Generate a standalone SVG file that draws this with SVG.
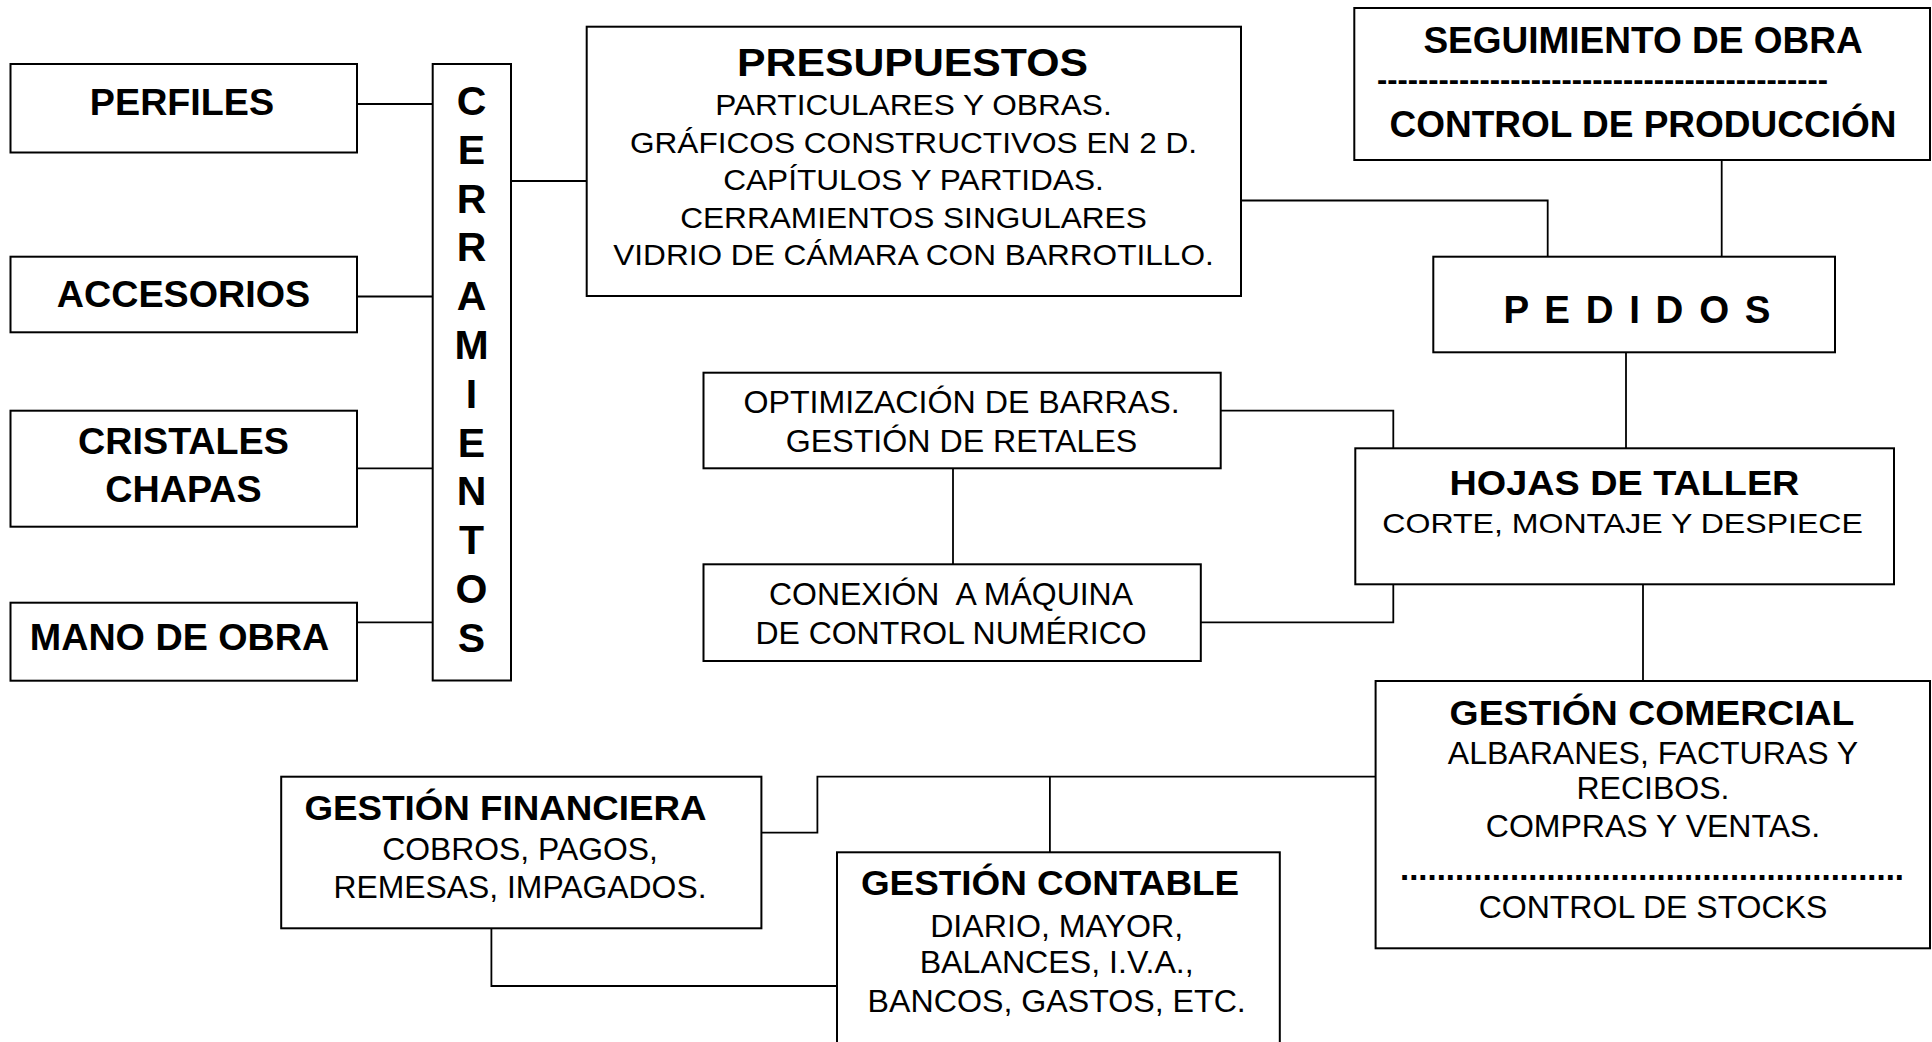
<svg xmlns="http://www.w3.org/2000/svg" width="1932" height="1042" viewBox="0 0 1932 1042">
<style>
.box{fill:#fff;stroke:#000;stroke-width:2}
.con{fill:none;stroke:#000;stroke-width:1.8}
.b{font-family:"Liberation Sans",Arial,sans-serif;font-weight:bold;text-anchor:middle;fill:#000}
.r{font-family:"Liberation Sans",Arial,sans-serif;font-weight:normal;text-anchor:middle;fill:#000}
.lc{font-size:37.7px}
.let{font-size:41px}
</style>
<rect x="0" y="0" width="1932" height="1042" fill="#fff"/>
<g id="connectors">
<path class="con" d="M357,104 H433"/>
<path class="con" d="M357,296.5 H433"/>
<path class="con" d="M357,468.3 H433"/>
<path class="con" d="M357,622.3 H433"/>
<path class="con" d="M511,181 H587"/>
<path class="con" d="M1241,200.5 H1547.7 V256.7"/>
<path class="con" d="M1721.7,160 V256.7"/>
<path class="con" d="M1626,352.3 V448.3"/>
<path class="con" d="M1220.7,410.7 H1393.3 V448.3"/>
<path class="con" d="M1200.8,622.3 H1393.3 V584.3"/>
<path class="con" d="M953,468.3 V564.3"/>
<path class="con" d="M1643,584.3 V681"/>
<path class="con" d="M1375.6,776.7 H817.4 V832.7 H761.4"/>
<path class="con" d="M1049.9,776.7 V852.3"/>
<path class="con" d="M491.4,928.3 V986 H837"/>
</g>
<g id="perfiles">
<rect class="box" x="10.5" y="64" width="346.5" height="88.5"/>
<text class="b lc" x="182" y="115">PERFILES</text>
</g>
<g id="accesorios">
<rect class="box" x="10.5" y="256.7" width="346.5" height="75.6"/>
<text class="b lc" x="183.5" y="306.7">ACCESORIOS</text>
</g>
<g id="cristales">
<rect class="box" x="10.5" y="410.7" width="346.5" height="116"/>
<text class="b lc" x="183.5" y="454">CRISTALES</text>
<text class="b lc" x="183.5" y="501.7">CHAPAS</text>
</g>
<g id="mano-de-obra">
<rect class="box" x="10.5" y="602.7" width="346.5" height="78"/>
<text class="b lc" x="179.5" y="650">MANO DE OBRA</text>
</g>
<g id="cerramientos">
<rect class="box" x="432.7" y="64" width="78.3" height="616.5"/>
<text class="b let" x="471.5" y="115">C</text>
<text class="b let" x="471.5" y="163.8">E</text>
<text class="b let" x="471.5" y="212.6">R</text>
<text class="b let" x="471.5" y="261.4">R</text>
<text class="b let" x="471.5" y="310.2">A</text>
<text class="b let" x="471.5" y="359">M</text>
<text class="b let" x="471.5" y="407.8">I</text>
<text class="b let" x="471.5" y="456.6">E</text>
<text class="b let" x="471.5" y="505.4">N</text>
<text class="b let" x="471.5" y="554.2">T</text>
<text class="b let" x="471.5" y="603">O</text>
<text class="b let" x="471.5" y="651.8">S</text>
</g>
<g id="presupuestos">
<rect class="box" x="586.7" y="26.7" width="654.3" height="269.3"/>
<text class="b" font-size="39" transform="translate(912.5 0) scale(1.097 1)" x="0" y="76">PRESUPUESTOS</text>
<g class="r" font-size="29" transform="translate(913.5 0) scale(1.09 1)">
<text x="0" y="115.5">PARTICULARES Y OBRAS.</text>
<text x="0" y="153">GRÁFICOS CONSTRUCTIVOS EN 2 D.</text>
<text x="0" y="190.5">CAPÍTULOS Y PARTIDAS.</text>
<text x="0" y="228">CERRAMIENTOS SINGULARES</text>
<text x="0" y="265.5">VIDRIO DE CÁMARA CON BARROTILLO.</text>
</g>
</g>
<g id="seguimiento">
<rect class="box" x="1354.3" y="8" width="575.7" height="152"/>
<text class="b" font-size="37" x="1643" y="53.3">SEGUIMIENTO DE OBRA</text>
<text class="b" font-size="31" style="text-anchor:start" x="1377" y="90" textLength="451" lengthAdjust="spacingAndGlyphs">--------------------------------------------</text>
<text class="b" font-size="37" x="1643" y="136.7">CONTROL DE PRODUCCIÓN</text>
</g>
<g id="pedidos">
<rect class="box" x="1433.3" y="256.7" width="401.7" height="95.6"/>
<text class="b" font-size="38.5" style="text-anchor:start" x="1503.5" y="322.7" textLength="267" lengthAdjust="spacing">P E D I D O S</text>
</g>
<g id="optimizacion">
<rect class="box" x="703.5" y="372.7" width="517.2" height="95.6"/>
<g class="r" font-size="31.5" transform="translate(961.5 0) scale(1.022 1)">
<text x="0" y="412.7">OPTIMIZACIÓN DE BARRAS.</text>
<text x="0" y="451.7">GESTIÓN DE RETALES</text>
</g>
</g>
<g id="conexion">
<rect class="box" x="703.5" y="564.3" width="497.3" height="96.7"/>
<g class="r" font-size="31.5" transform="translate(951 0) scale(1.015 1)">
<text x="0" y="605" xml:space="preserve">CONEXIÓN  A MÁQUINA</text>
<text x="0" y="644">DE CONTROL NUMÉRICO</text>
</g>
</g>
<g id="hojas-de-taller">
<rect class="box" x="1355.3" y="448.3" width="538.7" height="136"/>
<text class="b" font-size="35" transform="translate(1624.5 0) scale(1.08 1)" x="0" y="494.8">HOJAS DE TALLER</text>
<text class="r" font-size="28.5" transform="translate(1622.6 0) scale(1.126 1)" x="0" y="533.2">CORTE, MONTAJE Y DESPIECE</text>
</g>
<g id="gestion-comercial">
<rect class="box" x="1375.6" y="681" width="554.4" height="267.3"/>
<text class="b" font-size="35.5" transform="translate(1652 0) scale(1.053 1)" x="0" y="725.5">GESTIÓN COMERCIAL</text>
<g class="r" font-size="30.5" transform="translate(1653 0) scale(1.05 1)">
<text x="0" y="764">ALBARANES, FACTURAS Y</text>
<text x="0" y="799.5">RECIBOS.</text>
<text x="0" y="836.7">COMPRAS Y VENTAS.</text>
<text x="0" y="918.3">CONTROL DE STOCKS</text>
</g>
<text class="b" font-size="33" style="text-anchor:start" x="1400" y="879.5" textLength="504" lengthAdjust="spacingAndGlyphs">.......................................................</text>
</g>
<g id="gestion-financiera">
<rect class="box" x="281.2" y="776.7" width="480.2" height="151.6"/>
<text class="b" font-size="35" transform="translate(505.6 0) scale(1.05 1)" x="0" y="819.8">GESTIÓN FINANCIERA</text>
<g class="r" font-size="30.5" transform="translate(520 0) scale(1.045 1)">
<text x="0" y="859.7">COBROS, PAGOS,</text>
<text x="0" y="898.5">REMESAS, IMPAGADOS.</text>
</g>
</g>
<g id="gestion-contable">
<rect class="box" x="837" y="852.3" width="442.8" height="200"/>
<text class="b" font-size="35" transform="translate(1050 0) scale(1.054 1)" x="0" y="895.5">GESTIÓN CONTABLE</text>
<g class="r" font-size="30.5" transform="translate(1056.7 0) scale(1.055 1)">
<text x="0" y="936.9">DIARIO, MAYOR,</text>
<text x="0" y="973.5">BALANCES, I.V.A.,</text>
<text x="0" y="1011.9">BANCOS, GASTOS, ETC.</text>
</g>
</g>
</svg>
